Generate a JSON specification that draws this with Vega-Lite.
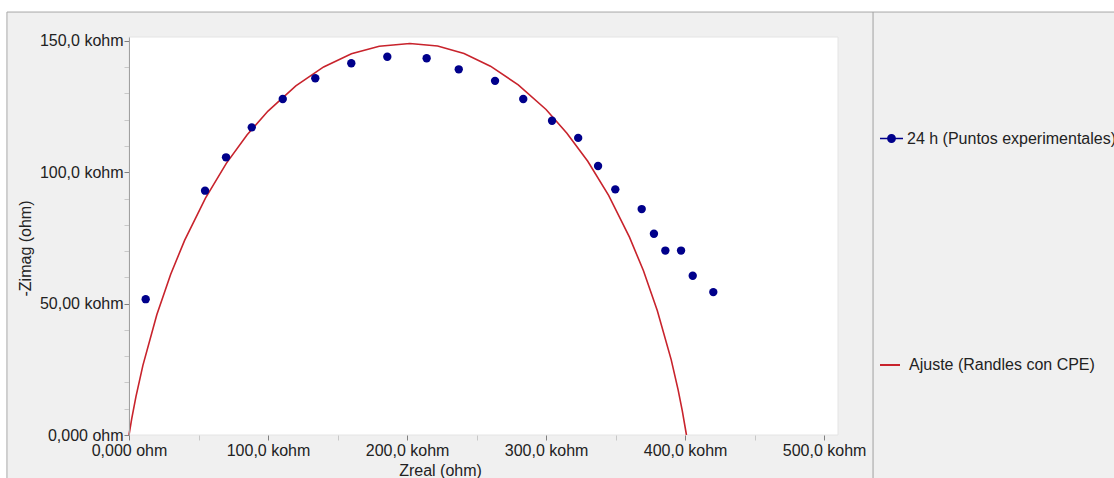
{
  "$schema": "https://vega.github.io/schema/vega-lite/v6.json",
  "width": 709,
  "height": 398,
  "autosize": {"type": "none"},
  "padding": {"left": 129, "top": 37, "right": 276, "bottom": 43},
  "background": "white",
  "config": {
    "view": {"stroke": null},
    "font": "Liberation Sans",
    "axis": {"labelOverlap": false, "labelFlush": false}
  },
  "datasets": {
    "puntos": [
      {"zreal": 12.0, "zimag": 51.7, "serie": "24 h (Puntos experimentales)"},
      {"zreal": 54.7, "zimag": 93.0, "serie": "24 h (Puntos experimentales)"},
      {"zreal": 69.8, "zimag": 105.7, "serie": "24 h (Puntos experimentales)"},
      {"zreal": 88.3, "zimag": 117.1, "serie": "24 h (Puntos experimentales)"},
      {"zreal": 110.6, "zimag": 127.9, "serie": "24 h (Puntos experimentales)"},
      {"zreal": 134.0, "zimag": 135.8, "serie": "24 h (Puntos experimentales)"},
      {"zreal": 159.9, "zimag": 141.5, "serie": "24 h (Puntos experimentales)"},
      {"zreal": 185.8, "zimag": 144.0, "serie": "24 h (Puntos experimentales)"},
      {"zreal": 214.1, "zimag": 143.4, "serie": "24 h (Puntos experimentales)"},
      {"zreal": 237.2, "zimag": 139.2, "serie": "24 h (Puntos experimentales)"},
      {"zreal": 263.3, "zimag": 134.8, "serie": "24 h (Puntos experimentales)"},
      {"zreal": 283.6, "zimag": 127.9, "serie": "24 h (Puntos experimentales)"},
      {"zreal": 304.3, "zimag": 119.6, "serie": "24 h (Puntos experimentales)"},
      {"zreal": 323.1, "zimag": 113.1, "serie": "24 h (Puntos experimentales)"},
      {"zreal": 337.4, "zimag": 102.4, "serie": "24 h (Puntos experimentales)"},
      {"zreal": 349.8, "zimag": 93.5, "serie": "24 h (Puntos experimentales)"},
      {"zreal": 368.8, "zimag": 86.0, "serie": "24 h (Puntos experimentales)"},
      {"zreal": 377.6, "zimag": 76.6, "serie": "24 h (Puntos experimentales)"},
      {"zreal": 385.8, "zimag": 70.2, "serie": "24 h (Puntos experimentales)"},
      {"zreal": 397.1, "zimag": 70.2, "serie": "24 h (Puntos experimentales)"},
      {"zreal": 405.5, "zimag": 60.6, "serie": "24 h (Puntos experimentales)"},
      {"zreal": 420.3, "zimag": 54.4, "serie": "24 h (Puntos experimentales)"}
    ],
    "ajuste": [
      {"zreal": 0, "zimag": 0, "serie": "Ajuste (Randles con CPE)"},
      {"zreal": 2, "zimag": 6.3, "serie": "Ajuste (Randles con CPE)"},
      {"zreal": 5, "zimag": 14.6, "serie": "Ajuste (Randles con CPE)"},
      {"zreal": 10, "zimag": 26.5, "serie": "Ajuste (Randles con CPE)"},
      {"zreal": 20, "zimag": 45.8, "serie": "Ajuste (Randles con CPE)"},
      {"zreal": 30, "zimag": 61.2, "serie": "Ajuste (Randles con CPE)"},
      {"zreal": 40, "zimag": 74.1, "serie": "Ajuste (Randles con CPE)"},
      {"zreal": 55, "zimag": 90.2, "serie": "Ajuste (Randles con CPE)"},
      {"zreal": 70, "zimag": 103.4, "serie": "Ajuste (Randles con CPE)"},
      {"zreal": 85, "zimag": 114.3, "serie": "Ajuste (Randles con CPE)"},
      {"zreal": 100, "zimag": 123.3, "serie": "Ajuste (Randles con CPE)"},
      {"zreal": 120, "zimag": 132.9, "serie": "Ajuste (Randles con CPE)"},
      {"zreal": 140, "zimag": 140.1, "serie": "Ajuste (Randles con CPE)"},
      {"zreal": 160, "zimag": 145.1, "serie": "Ajuste (Randles con CPE)"},
      {"zreal": 180, "zimag": 148.0, "serie": "Ajuste (Randles con CPE)"},
      {"zreal": 202, "zimag": 149.0, "serie": "Ajuste (Randles con CPE)"},
      {"zreal": 222, "zimag": 148.1, "serie": "Ajuste (Randles con CPE)"},
      {"zreal": 241, "zimag": 145.2, "serie": "Ajuste (Randles con CPE)"},
      {"zreal": 260, "zimag": 140.4, "serie": "Ajuste (Randles con CPE)"},
      {"zreal": 280, "zimag": 133.3, "serie": "Ajuste (Randles con CPE)"},
      {"zreal": 300, "zimag": 123.9, "serie": "Ajuste (Randles con CPE)"},
      {"zreal": 315, "zimag": 114.9, "serie": "Ajuste (Randles con CPE)"},
      {"zreal": 330, "zimag": 104.2, "serie": "Ajuste (Randles con CPE)"},
      {"zreal": 345, "zimag": 91.2, "serie": "Ajuste (Randles con CPE)"},
      {"zreal": 360, "zimag": 75.3, "serie": "Ajuste (Randles con CPE)"},
      {"zreal": 370, "zimag": 62.6, "serie": "Ajuste (Randles con CPE)"},
      {"zreal": 380, "zimag": 47.4, "serie": "Ajuste (Randles con CPE)"},
      {"zreal": 390, "zimag": 28.7, "serie": "Ajuste (Randles con CPE)"},
      {"zreal": 395, "zimag": 17.2, "serie": "Ajuste (Randles con CPE)"},
      {"zreal": 398, "zimag": 9.2, "serie": "Ajuste (Randles con CPE)"},
      {"zreal": 401, "zimag": 0, "serie": "Ajuste (Randles con CPE)"}
    ]
  },
  "layer": [
    {
      "data": {"values": [{}]},
      "mark": {"type": "rect", "fill": "#f0f0f0", "stroke": "#a8a8a8", "strokeWidth": 1},
      "encoding": {
        "x": {
          "datum": -87.8, "type": "quantitative",
          "scale": {"domain": [0, 510], "nice": false, "zero": false},
          "axis": {
            "zindex": 2, "title": "Zreal (ohm)", "titleFont": "Liberation Sans", "titleFontSize": 16, "titleFontWeight": "normal", "titleColor": "#222222",
            "titleX": 311, "titleY": 35, "titleAlign": "center", "titleBaseline": "middle",
            "values": [0, 50, 100, 150, 200, 250, 300, 350, 400, 450, 500],
            "labelExpr": "datum.value === 0 ? '0,000 ohm' : datum.value === 100 ? '100,0 kohm' : datum.value === 200 ? '200,0 kohm' : datum.value === 300 ? '300,0 kohm' : datum.value === 400 ? '400,0 kohm' : datum.value === 500 ? '500,0 kohm' : ''",
            "labelFont": "Liberation Sans", "labelFontSize": 16, "labelColor": "#222222", "labelFlush": false, "labelOverlap": false, "labelBound": false, "labelPadding": 2,
            "tickSize": 5,
            "tickColor": {"condition": {"test": "datum.value % 100 === 0", "value": "#808080"}, "value": "#c8c8c8"},
            "domain": false, "grid": false
          }
        },
        "x2": {"datum": 720},
        "y": {
          "datum": 161.0, "type": "quantitative",
          "scale": {"domain": [0, 151.5], "nice": false, "zero": false},
          "axis": {
            "zindex": 2, "title": "-Zimag (ohm)", "titleFont": "Liberation Sans", "titleFontSize": 16, "titleFontWeight": "normal", "titleColor": "#222222",
            "titleX": -104, "titleY": 211, "titleAlign": "center", "titleBaseline": "middle", "titleAngle": -90,
            "values": [0, 10, 20, 30, 40, 50, 60, 70, 80, 90, 100, 110, 120, 130, 140, 150],
            "labelExpr": "datum.value === 0 ? '0,000 ohm' : datum.value === 50 ? '50,00 kohm' : datum.value === 100 ? '100,0 kohm' : datum.value === 150 ? '150,0 kohm' : ''",
            "labelFont": "Liberation Sans", "labelFontSize": 16, "labelColor": "#222222", "labelFlush": false, "labelOverlap": false, "labelBound": false, "labelPadding": 1,
            "tickSize": 5,
            "tickColor": {"condition": {"test": "datum.value % 50 === 0", "value": "#808080"}, "value": "#c8c8c8"},
            "domainColor": "#a0a0a0", "grid": false
          }
        },
        "y2": {"datum": -20}
      }
    },
    {
      "data": {"values": [{}]},
      "mark": {"type": "rule", "color": "#a0a0a0", "strokeWidth": 1},
      "encoding": {
        "x": {
          "datum": 535.2, "type": "quantitative",
          "scale": {"domain": [0, 510], "nice": false, "zero": false},
          "axis": {
            "zindex": 2, "title": "Zreal (ohm)", "titleFont": "Liberation Sans", "titleFontSize": 16, "titleFontWeight": "normal", "titleColor": "#222222",
            "titleX": 311, "titleY": 35, "titleAlign": "center", "titleBaseline": "middle",
            "values": [0, 50, 100, 150, 200, 250, 300, 350, 400, 450, 500],
            "labelExpr": "datum.value === 0 ? '0,000 ohm' : datum.value === 100 ? '100,0 kohm' : datum.value === 200 ? '200,0 kohm' : datum.value === 300 ? '300,0 kohm' : datum.value === 400 ? '400,0 kohm' : datum.value === 500 ? '500,0 kohm' : ''",
            "labelFont": "Liberation Sans", "labelFontSize": 16, "labelColor": "#222222", "labelFlush": false, "labelOverlap": false, "labelBound": false, "labelPadding": 2,
            "tickSize": 5,
            "tickColor": {"condition": {"test": "datum.value % 100 === 0", "value": "#808080"}, "value": "#c8c8c8"},
            "domain": false, "grid": false
          }
        },
        "y": {
          "datum": 161.0, "type": "quantitative",
          "scale": {"domain": [0, 151.5], "nice": false, "zero": false},
          "axis": {
            "zindex": 2, "title": "-Zimag (ohm)", "titleFont": "Liberation Sans", "titleFontSize": 16, "titleFontWeight": "normal", "titleColor": "#222222",
            "titleX": -104, "titleY": 211, "titleAlign": "center", "titleBaseline": "middle", "titleAngle": -90,
            "values": [0, 10, 20, 30, 40, 50, 60, 70, 80, 90, 100, 110, 120, 130, 140, 150],
            "labelExpr": "datum.value === 0 ? '0,000 ohm' : datum.value === 50 ? '50,00 kohm' : datum.value === 100 ? '100,0 kohm' : datum.value === 150 ? '150,0 kohm' : ''",
            "labelFont": "Liberation Sans", "labelFontSize": 16, "labelColor": "#222222", "labelFlush": false, "labelOverlap": false, "labelBound": false, "labelPadding": 1,
            "tickSize": 5,
            "tickColor": {"condition": {"test": "datum.value % 50 === 0", "value": "#808080"}, "value": "#c8c8c8"},
            "domainColor": "#a0a0a0", "grid": false
          }
        },
        "y2": {"datum": -20}
      }
    },
    {
      "data": {"values": [{}]},
      "mark": {"type": "rect", "fill": "white", "stroke": "#e4e4e4", "strokeWidth": 1},
      "encoding": {
        "x": {
          "datum": 0, "type": "quantitative",
          "scale": {"domain": [0, 510], "nice": false, "zero": false},
          "axis": {
            "zindex": 2, "title": "Zreal (ohm)", "titleFont": "Liberation Sans", "titleFontSize": 16, "titleFontWeight": "normal", "titleColor": "#222222",
            "titleX": 311, "titleY": 35, "titleAlign": "center", "titleBaseline": "middle",
            "values": [0, 50, 100, 150, 200, 250, 300, 350, 400, 450, 500],
            "labelExpr": "datum.value === 0 ? '0,000 ohm' : datum.value === 100 ? '100,0 kohm' : datum.value === 200 ? '200,0 kohm' : datum.value === 300 ? '300,0 kohm' : datum.value === 400 ? '400,0 kohm' : datum.value === 500 ? '500,0 kohm' : ''",
            "labelFont": "Liberation Sans", "labelFontSize": 16, "labelColor": "#222222", "labelFlush": false, "labelOverlap": false, "labelBound": false, "labelPadding": 2,
            "tickSize": 5,
            "tickColor": {"condition": {"test": "datum.value % 100 === 0", "value": "#808080"}, "value": "#c8c8c8"},
            "domain": false, "grid": false
          }
        },
        "x2": {"datum": 510},
        "y": {
          "datum": 0, "type": "quantitative",
          "scale": {"domain": [0, 151.5], "nice": false, "zero": false},
          "axis": {
            "zindex": 2, "title": "-Zimag (ohm)", "titleFont": "Liberation Sans", "titleFontSize": 16, "titleFontWeight": "normal", "titleColor": "#222222",
            "titleX": -104, "titleY": 211, "titleAlign": "center", "titleBaseline": "middle", "titleAngle": -90,
            "values": [0, 10, 20, 30, 40, 50, 60, 70, 80, 90, 100, 110, 120, 130, 140, 150],
            "labelExpr": "datum.value === 0 ? '0,000 ohm' : datum.value === 50 ? '50,00 kohm' : datum.value === 100 ? '100,0 kohm' : datum.value === 150 ? '150,0 kohm' : ''",
            "labelFont": "Liberation Sans", "labelFontSize": 16, "labelColor": "#222222", "labelFlush": false, "labelOverlap": false, "labelBound": false, "labelPadding": 1,
            "tickSize": 5,
            "tickColor": {"condition": {"test": "datum.value % 50 === 0", "value": "#808080"}, "value": "#c8c8c8"},
            "domainColor": "#a0a0a0", "grid": false
          }
        },
        "y2": {"datum": 151.5}
      }
    },
    {
      "data": {"name": "ajuste"},
      "mark": {"type": "line", "strokeWidth": 1.6, "interpolate": "linear"},
      "encoding": {
        "x": {
          "field": "zreal", "type": "quantitative",
          "scale": {"domain": [0, 510], "nice": false, "zero": false},
          "axis": {
            "zindex": 2, "title": "Zreal (ohm)", "titleFont": "Liberation Sans", "titleFontSize": 16, "titleFontWeight": "normal", "titleColor": "#222222",
            "titleX": 311, "titleY": 35, "titleAlign": "center", "titleBaseline": "middle",
            "values": [0, 50, 100, 150, 200, 250, 300, 350, 400, 450, 500],
            "labelExpr": "datum.value === 0 ? '0,000 ohm' : datum.value === 100 ? '100,0 kohm' : datum.value === 200 ? '200,0 kohm' : datum.value === 300 ? '300,0 kohm' : datum.value === 400 ? '400,0 kohm' : datum.value === 500 ? '500,0 kohm' : ''",
            "labelFont": "Liberation Sans", "labelFontSize": 16, "labelColor": "#222222", "labelFlush": false, "labelOverlap": false, "labelBound": false, "labelPadding": 2,
            "tickSize": 5,
            "tickColor": {"condition": {"test": "datum.value % 100 === 0", "value": "#808080"}, "value": "#c8c8c8"},
            "domain": false, "grid": false
          }
        },
        "y": {
          "field": "zimag", "type": "quantitative",
          "scale": {"domain": [0, 151.5], "nice": false, "zero": false},
          "axis": {
            "zindex": 2, "title": "-Zimag (ohm)", "titleFont": "Liberation Sans", "titleFontSize": 16, "titleFontWeight": "normal", "titleColor": "#222222",
            "titleX": -104, "titleY": 211, "titleAlign": "center", "titleBaseline": "middle", "titleAngle": -90,
            "values": [0, 10, 20, 30, 40, 50, 60, 70, 80, 90, 100, 110, 120, 130, 140, 150],
            "labelExpr": "datum.value === 0 ? '0,000 ohm' : datum.value === 50 ? '50,00 kohm' : datum.value === 100 ? '100,0 kohm' : datum.value === 150 ? '150,0 kohm' : ''",
            "labelFont": "Liberation Sans", "labelFontSize": 16, "labelColor": "#222222", "labelFlush": false, "labelOverlap": false, "labelBound": false, "labelPadding": 1,
            "tickSize": 5,
            "tickColor": {"condition": {"test": "datum.value % 50 === 0", "value": "#808080"}, "value": "#c8c8c8"},
            "domainColor": "#a0a0a0", "grid": false
          }
        },
        "stroke": {
          "field": "serie",
          "type": "nominal",
          "scale": {"domain": ["Ajuste (Randles con CPE)"], "range": ["#c8232c"]},
          "legend": {
            "orient": "none", "legendX": 750, "legendY": 317, "title": null, "padding": 0,
            "symbolType": "stroke", "symbolSize": 400, "symbolStrokeWidth": 2, "labelOffset": 8,
            "labelFont": "Liberation Sans", "labelFontSize": 16, "labelColor": "#222222", "labelLimit": 400, "zindex": 2
          }
        }
      }
    },
    {
      "data": {"name": "puntos"},
      "mark": {"type": "point", "filled": true, "size": 70, "opacity": 1},
      "encoding": {
        "x": {
          "field": "zreal", "type": "quantitative",
          "scale": {"domain": [0, 510], "nice": false, "zero": false},
          "axis": {
            "zindex": 2, "title": "Zreal (ohm)", "titleFont": "Liberation Sans", "titleFontSize": 16, "titleFontWeight": "normal", "titleColor": "#222222",
            "titleX": 311, "titleY": 35, "titleAlign": "center", "titleBaseline": "middle",
            "values": [0, 50, 100, 150, 200, 250, 300, 350, 400, 450, 500],
            "labelExpr": "datum.value === 0 ? '0,000 ohm' : datum.value === 100 ? '100,0 kohm' : datum.value === 200 ? '200,0 kohm' : datum.value === 300 ? '300,0 kohm' : datum.value === 400 ? '400,0 kohm' : datum.value === 500 ? '500,0 kohm' : ''",
            "labelFont": "Liberation Sans", "labelFontSize": 16, "labelColor": "#222222", "labelFlush": false, "labelOverlap": false, "labelBound": false, "labelPadding": 2,
            "tickSize": 5,
            "tickColor": {"condition": {"test": "datum.value % 100 === 0", "value": "#808080"}, "value": "#c8c8c8"},
            "domain": false, "grid": false
          }
        },
        "y": {
          "field": "zimag", "type": "quantitative",
          "scale": {"domain": [0, 151.5], "nice": false, "zero": false},
          "axis": {
            "zindex": 2, "title": "-Zimag (ohm)", "titleFont": "Liberation Sans", "titleFontSize": 16, "titleFontWeight": "normal", "titleColor": "#222222",
            "titleX": -104, "titleY": 211, "titleAlign": "center", "titleBaseline": "middle", "titleAngle": -90,
            "values": [0, 10, 20, 30, 40, 50, 60, 70, 80, 90, 100, 110, 120, 130, 140, 150],
            "labelExpr": "datum.value === 0 ? '0,000 ohm' : datum.value === 50 ? '50,00 kohm' : datum.value === 100 ? '100,0 kohm' : datum.value === 150 ? '150,0 kohm' : ''",
            "labelFont": "Liberation Sans", "labelFontSize": 16, "labelColor": "#222222", "labelFlush": false, "labelOverlap": false, "labelBound": false, "labelPadding": 1,
            "tickSize": 5,
            "tickColor": {"condition": {"test": "datum.value % 50 === 0", "value": "#808080"}, "value": "#c8c8c8"},
            "domainColor": "#a0a0a0", "grid": false
          }
        },
        "fill": {
          "field": "serie",
          "type": "nominal",
          "scale": {"domain": ["24 h (Puntos experimentales)"], "range": ["#00008b"]},
          "legend": {
            "orient": "none", "legendX": 750, "legendY": 89, "title": null, "padding": 0,
            "symbolType": "M-1,0L-0.32,0M0.32,0L1,0M-0.32,0A0.32,0.32,0,1,1,0.32,0A0.32,0.32,0,1,1,-0.32,0Z",
            "symbolSize": 529, "symbolStrokeWidth": 1.5, "symbolStrokeColor": "#00008b", "labelOffset": 3,
            "labelFont": "Liberation Sans", "labelFontSize": 16, "labelColor": "#222222", "labelLimit": 400, "zindex": 2,
            "encode": {"symbols": {"update": {"stroke": {"value": "#00008b"}, "strokeWidth": {"value": 1.5}}}}
          }
        }
      }
    }
  ]
}
